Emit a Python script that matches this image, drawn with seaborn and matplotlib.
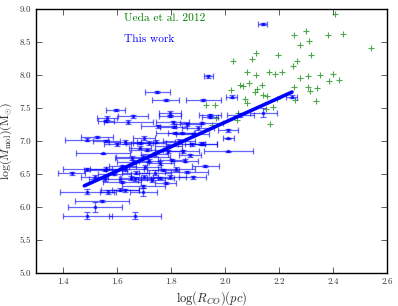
import numpy as np
import pandas as pd
import seaborn as sns
import matplotlib
matplotlib.use("Agg")
import matplotlib.pyplot as plt

# Ueda et al. 2012 sample
ueda_logr = [2.407, 2.257, 2.299, 2.380, 2.436, 2.540, 2.278, 2.312, 2.114, 2.195,
             2.318, 2.101, 2.030, 2.268, 2.250, 2.080, 2.115, 2.164, 2.185, 2.210,
             2.278, 2.309, 2.352, 2.401, 2.386, 2.421, 2.056, 2.065, 2.088, 2.021,
             2.137, 2.112, 2.120, 2.142, 2.157, 2.257, 2.309, 2.314, 2.340, 2.258,
             2.337, 2.075, 2.080, 2.194, 1.930, 1.964, 2.152, 2.179, 2.048, 2.043,
             1.967, 1.952, 2.167]
ueda_logm = [8.92, 8.61, 8.67, 8.61, 8.62, 8.40, 8.45, 8.52, 8.33, 8.30,
             8.30, 8.24, 8.21, 8.21, 8.13, 8.04, 8.00, 8.04, 8.01, 8.04,
             7.96, 7.98, 8.00, 8.02, 7.90, 7.93, 7.85, 7.83, 7.88, 7.77,
             7.84, 7.74, 7.78, 7.69, 7.68, 7.82, 7.82, 7.75, 7.80, 7.62,
             7.61, 7.63, 7.58, 7.64, 7.55, 7.55, 7.48, 7.51, 7.42, 7.32,
             7.34, 7.24, 7.25]

# this work
logr = [1.749, 1.781, 1.596, 1.796, 1.562, 1.660, 1.560, 1.642, 1.753, 1.525,
        1.488, 1.560, 1.630, 1.549, 2.140, 1.938, 1.920, 2.025, 2.247, 2.056,
        2.142, 2.012, 2.012, 1.920, 2.012, 1.944, 1.944, 1.697, 1.490, 1.432,
        1.560, 1.858, 1.488, 1.568, 1.630, 1.697, 1.543, 1.518, 1.490, 1.667,
        1.685, 1.720, 1.685, 1.654, 1.556, 1.630, 1.704, 1.518, 1.556, 1.617,
        1.667, 1.728, 1.611, 1.697, 1.796, 1.914, 1.806, 1.810, 1.900, 1.815,
        1.840, 1.880, 1.745, 1.830, 1.877, 1.910, 1.790, 1.845, 1.790, 1.803,
        1.926, 1.770, 1.820, 1.760, 1.795, 1.740, 1.710, 1.620, 1.660, 1.740,
        1.780, 1.700, 1.650, 1.590, 1.850, 1.870, 1.760, 1.700, 1.860, 1.670,
        1.720, 1.880, 1.600]
logm = [7.74, 7.62, 7.47, 7.43, 7.34, 7.37, 7.30, 7.28, 7.22, 7.06,
        7.02, 7.00, 6.99, 6.81, 8.77, 7.98, 7.62, 7.67, 7.67, 7.39,
        7.43, 7.16, 7.04, 6.96, 6.84, 7.39, 7.36, 6.75, 6.57, 6.51,
        6.58, 6.53, 6.23, 6.22, 6.25, 6.22, 6.09, 6.00, 5.87, 5.87,
        6.97, 6.97, 6.90, 6.74, 6.56, 6.58, 6.61, 6.46, 6.42, 6.38,
        6.42, 6.41, 6.26, 6.31, 7.38, 7.27, 7.28, 7.21, 7.19, 7.12,
        7.12, 7.10, 6.99, 7.00, 6.95, 6.96, 6.93, 6.84, 6.84, 6.71,
        6.62, 6.56, 6.58, 6.44, 6.45, 6.80, 6.86, 6.62, 6.68, 6.52,
        6.36, 6.46, 6.44, 6.50, 6.70, 6.78, 6.66, 7.05, 7.25, 6.52,
        6.70, 6.45, 6.95]
logr_err = [0.046, 0.050, 0.035, 0.040, 0.037, 0.055, 0.030, 0.090, 0.065, 0.060,
            0.080, 0.050, 0.060, 0.100, 0.017, 0.017, 0.065, 0.020, 0.020, 0.050,
            0.050, 0.037, 0.020, 0.050, 0.090, 0.040, 0.030, 0.100, 0.090, 0.050,
            0.060, 0.080, 0.100, 0.030, 0.050, 0.050, 0.100, 0.100, 0.090, 0.095,
            0.050, 0.060, 0.040, 0.060, 0.080, 0.070, 0.060, 0.050, 0.060, 0.070,
            0.060, 0.050, 0.070, 0.080, 0.040, 0.080, 0.060, 0.050, 0.060, 0.070,
            0.050, 0.060, 0.070, 0.060, 0.050, 0.060, 0.050, 0.060, 0.050, 0.050,
            0.050, 0.060, 0.070, 0.050, 0.060, 0.050, 0.060, 0.050, 0.060, 0.060,
            0.040, 0.050, 0.040, 0.060, 0.050, 0.040, 0.050, 0.040, 0.050, 0.050,
            0.040, 0.050, 0.050]
logm_err = [0.02, 0.02, 0.02, 0.03, 0.03, 0.02, 0.02, 0.03, 0.02, 0.02,
            0.02, 0.02, 0.03, 0.01, 0.02, 0.02, 0.02, 0.02, 0.02, 0.03,
            0.07, 0.02, 0.01, 0.02, 0.01, 0.02, 0.02, 0.03, 0.02, 0.02,
            0.02, 0.02, 0.04, 0.03, 0.02, 0.06, 0.02, 0.07, 0.05, 0.06,
            0.02, 0.03, 0.02, 0.03, 0.02, 0.03, 0.03, 0.02, 0.02, 0.02,
            0.03, 0.03, 0.02, 0.02, 0.02, 0.02, 0.02, 0.02, 0.03, 0.02,
            0.02, 0.02, 0.02, 0.03, 0.02, 0.02, 0.03, 0.02, 0.02, 0.02,
            0.02, 0.02, 0.03, 0.02, 0.03, 0.03, 0.02, 0.02, 0.03, 0.04,
            0.02, 0.02, 0.03, 0.02, 0.02, 0.02, 0.03, 0.03, 0.02, 0.02,
            0.02, 0.02, 0.02]

# fitted relation
fit_logr = [1.479, 2.248]
fit_logm = [6.32, 7.74]

sns.set_style("ticks")
plt.rcParams['font.family'] = ['cmr10', 'DejaVu Serif']
plt.rcParams['mathtext.fontset'] = 'cm'
plt.rcParams['axes.unicode_minus'] = False
plt.rcParams['axes.formatter.use_mathtext'] = True

ueda = pd.DataFrame({'logr': ueda_logr, 'logm': ueda_logm})
ours = pd.DataFrame({'logr': logr, 'logm': logm})

fig = plt.figure(figsize=(3.98, 3.06), dpi=100)
ax = fig.add_axes([0.0905, 0.108, 0.882, 0.863])

sns.scatterplot(data=ueda, x='logr', y='logm', marker='+', color='green',
                s=18, linewidth=0.8, alpha=0.7, ax=ax)
ax.errorbar(ours['logr'], ours['logm'], xerr=logr_err, yerr=logm_err,
            fmt='s', ms=1.5, color='blue', ecolor='blue', elinewidth=0.9,
            capsize=2, capthick=0.9, alpha=0.6, linestyle='none')
sns.lineplot(x=fit_logr, y=fit_logm, color='blue', linewidth=2.6, ax=ax)

ax.text(0.25, 0.966, 'Ueda et al. 2012', color='green', fontsize=8.2,
        transform=ax.transAxes, va='center', ha='left')
ax.text(0.25, 0.886, 'This work', color='blue', fontsize=8.2,
        transform=ax.transAxes, va='center', ha='left')

ax.set_xlim(1.3, 2.6)
ax.set_ylim(5.0, 9.0)
ax.set_xticks([1.4, 1.6, 1.8, 2.0, 2.2, 2.4, 2.6])
ax.set_yticks([5.0, 5.5, 6.0, 6.5, 7.0, 7.5, 8.0, 8.5, 9.0])
ax.set_xticklabels(['1.4', '1.6', '1.8', '2.0', '2.2', '2.4', '2.6'])
ax.set_yticklabels(['5.0', '5.5', '6.0', '6.5', '7.0', '7.5', '8.0', '8.5', '9.0'])
ax.tick_params(direction='in', top=True, right=True, labelsize=6.5,
               length=4, width=0.6, colors='#444444', labelcolor='#333333')
for s in ax.spines.values():
    s.set_linewidth(1.0)
    s.set_color('black')

ax.set_xlabel(r'$\log(R_{CO})(pc)$', fontsize=9, labelpad=2)
ax.set_ylabel(r'$\log(M_{\rm mol})({\rm M}_{\odot})$', fontsize=8.5)
ax.yaxis.set_label_coords(-0.062, 0.5)

fig.savefig('out.png', dpi=100)
